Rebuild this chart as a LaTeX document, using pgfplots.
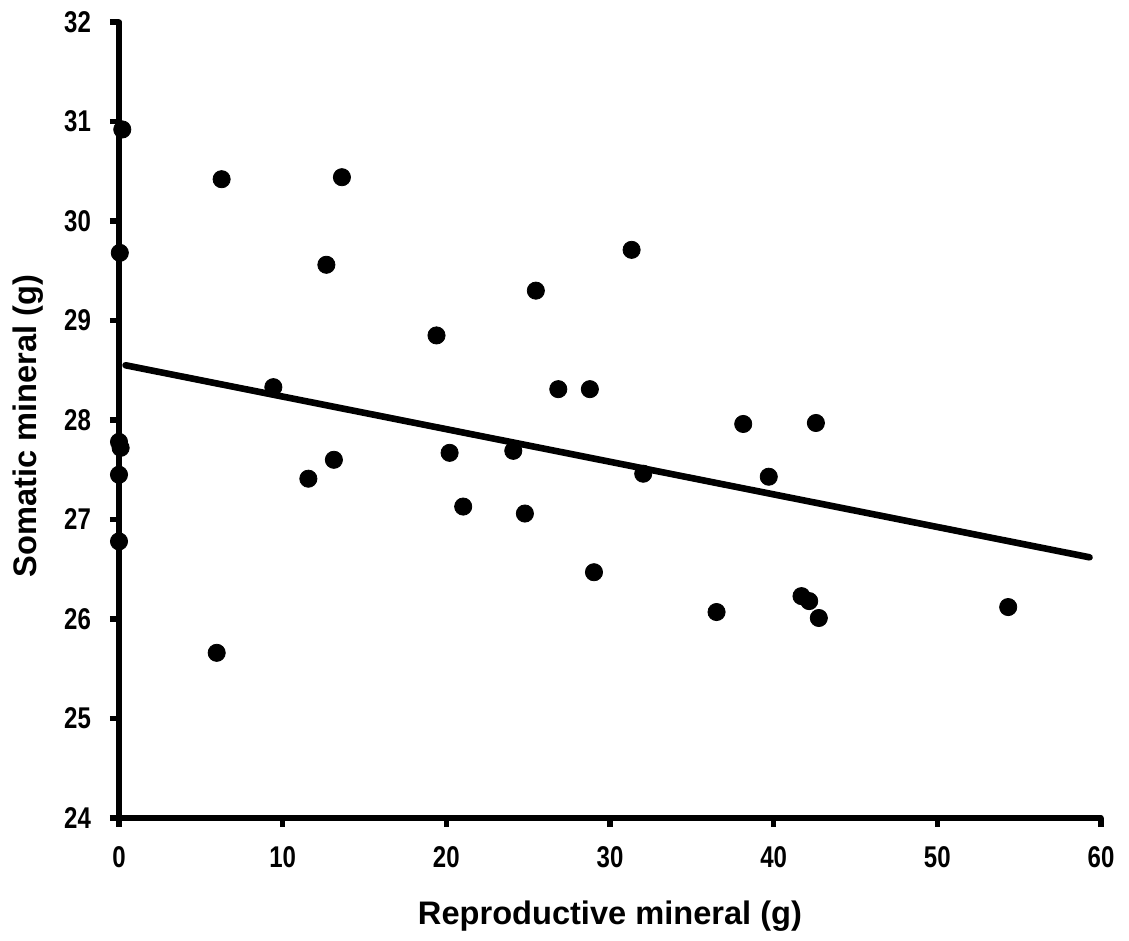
\documentclass[border=0pt]{standalone}
\usepackage{fontspec}
\setmainfont{Liberation Sans}
\usepackage{graphicx}
\usepackage{pgfplots}
\pgfplotsset{compat=1.18}
\begin{document}
\begin{tikzpicture}
\useasboundingbox (-59.5pt,-61.5pt) rectangle (505pt,409pt);
\begin{axis}[
  at={(0,0)}, anchor=south west,
  scale only axis, width=491pt, height=398pt,
  xmin=0, xmax=60, ymin=24, ymax=32,
  axis lines*=left,
  axis line style={line width=2.8pt, line cap=round},
  xtick={0,10,...,60}, ytick={24,25,...,32},
  tick align=outside, major tick length=4.5pt,
  every tick/.style={line width=2.8pt, black},
  tick label style={font=\fontsize{12}{13}\selectfont\bfseries},
  xticklabel={\scalebox{1}[1.25]{\pgfmathprintnumber[assume math mode=true]{\tick}}},
  yticklabel={\scalebox{1}[1.25]{\pgfmathprintnumber[assume math mode=true]{\tick}}},
  xticklabel style={yshift=-6pt},
  yticklabel style={xshift=-6pt},
  label style={font=\fontsize{16.3}{18}\selectfont\bfseries},
  xlabel={Reproductive mineral (g)},
  ylabel={Somatic mineral (g)},
  xlabel style={at={(axis description cs:0.5,0)}, anchor=base, yshift=-53pt},
  ylabel style={at={(axis description cs:0,0.5)}, anchor=base, yshift=41pt, xshift=-3pt},
  clip=false,
]
\addplot[only marks, mark=*, mark size=4.3pt, black] coordinates {
(0.2,30.92) (0.05,29.68) (0,27.78) (0.1,27.72) (0,27.45) (0,26.78)
(6.27,30.42) (5.97,25.66) (9.43,28.33) (11.57,27.41) (12.67,29.56)
(13.13,27.60) (13.62,30.44) (19.4,28.85) (20.2,27.67) (21.03,27.13)
(24.09,27.69) (24.8,27.06) (25.47,29.30) (26.84,28.31) (28.77,28.31)
(29.02,26.47) (31.32,29.71) (32.03,27.46) (36.51,26.07) (38.14,27.96)
(39.7,27.43) (41.7,26.23) (42.17,26.18) (42.58,27.97) (42.76,26.01)
(54.33,26.12)
};
\addplot[black, line width=3.3pt, line cap=round] coordinates {(0.4,28.55) (59.3,26.62)};
\end{axis}
\end{tikzpicture}
\end{document}
